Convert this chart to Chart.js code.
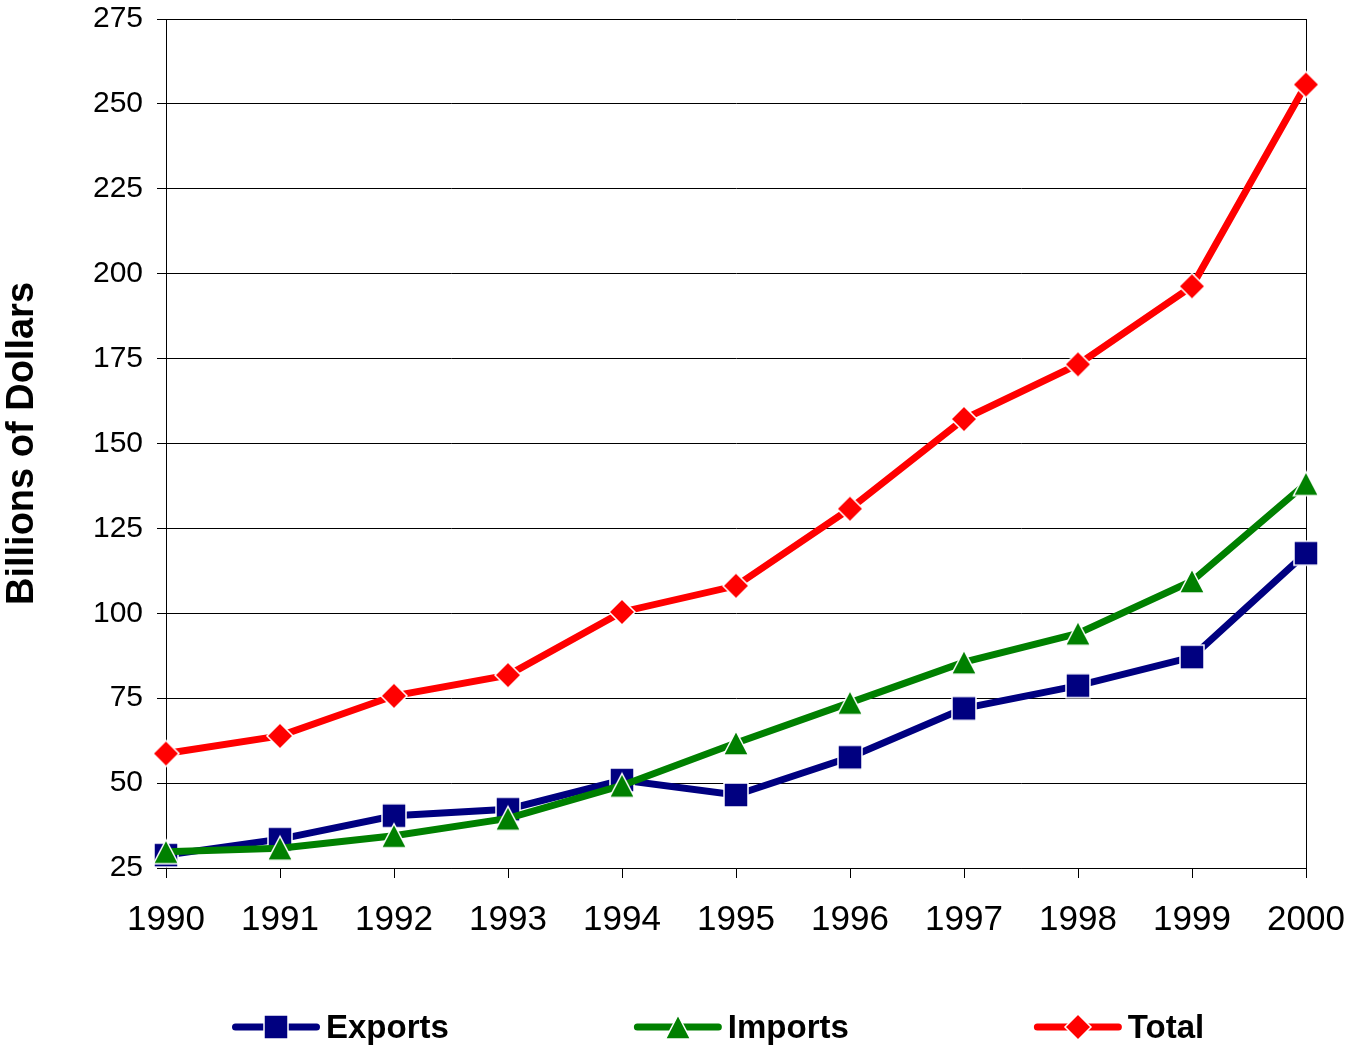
<!DOCTYPE html>
<html>
<head>
<meta charset="utf-8">
<title>Trade, 1990-2000</title>
<script src="https://cdn.jsdelivr.net/npm/chart.js@4.4.1/dist/chart.umd.min.js"></script>
<style>
  html, body { margin: 0; padding: 0; background: #ffffff; }
  #wrap { width: 1346px; height: 1046px; position: relative; }
</style>
</head>
<body>
<div id="wrap"><canvas id="chart"></canvas></div>
<script>
// ---- data (billions of dollars) ----
const years = ['1990', '1991', '1992', '1993', '1994', '1995', '1996', '1997', '1998', '1999', '2000'];
const exportsValues = [28.8, 33.5, 40.4, 42.3, 50.9, 46.5, 57.6, 72.0, 78.7, 87.1, 117.7];
const importsValues = [29.8, 30.8, 34.5, 39.6, 49.3, 61.8, 73.7, 85.6, 94.1, 109.5, 138.2];
const totalValues   = [58.7, 63.9, 75.7, 81.8, 100.4, 108.1, 130.8, 157.2, 173.3, 196.3, 255.7];
const seriesNames = ['Exports', 'Imports', 'Total'];
const yMin = 25;
const yMax = 275;
const yStep = 25;

// ---- styles ----
const FONT = '"Liberation Sans", Arial, Helvetica, sans-serif';
const NAVY = '#000080';
const GREEN = '#008000';
const RED = '#ff0000';

// Marker bitmaps, centred on their bounding box, with a thin white outline
function makeMarker(shape, color) {
  const s = 30;
  const c = document.createElement('canvas');
  c.width = s; c.height = s;
  const g = c.getContext('2d');
  const m = s / 2;
  g.beginPath();
  if (shape === 'square') {
    g.rect(m - 12, m - 12, 24, 24);
  } else if (shape === 'triangle') {
    g.moveTo(m, m - 12);
    g.lineTo(m + 12.5, m + 12);
    g.lineTo(m - 12.5, m + 12);
    g.closePath();
  } else {
    g.moveTo(m, m - 13);
    g.lineTo(m + 13, m);
    g.lineTo(m, m + 13);
    g.lineTo(m - 13, m);
    g.closePath();
  }
  g.fillStyle = color;
  g.fill();
  g.lineWidth = 1.5;
  g.strokeStyle = '#ffffff';
  g.stroke();
  return c;
}

const markers = [
  makeMarker('square', NAVY),
  makeMarker('triangle', GREEN),
  makeMarker('diamond', RED)
];
const colors = [NAVY, GREEN, RED];
const seriesValues = [exportsValues, importsValues, totalValues];

// Legend drawn below the axis: line + marker swatch followed by a bold label
const seriesLegend = {
  id: 'seriesLegend',
  afterDraw(chart) {
    const ctx = chart.ctx;
    const lineLen = 88, textGap = 6, itemGap = 185;
    const midY = chart.height - 19;
    const baseY = chart.height - 8;
    ctx.save();
    ctx.font = 'bold 33px ' + FONT;
    let x = chart.chartArea.left + 66;
    seriesNames.forEach((name, i) => {
      ctx.strokeStyle = colors[i];
      ctx.lineWidth = 7;
      ctx.lineCap = 'round';
      ctx.beginPath();
      ctx.moveTo(x + 3.5, midY);
      ctx.lineTo(x + lineLen - 3.5, midY);
      ctx.stroke();
      const mk = markers[i];
      ctx.drawImage(mk, Math.round(x + lineLen / 2 - mk.width / 2), Math.round(midY - mk.height / 2));
      ctx.fillStyle = '#000000';
      ctx.textAlign = 'left';
      ctx.textBaseline = 'alphabetic';
      const tx = x + lineLen + textGap;
      ctx.fillText(name, tx, baseY);
      x = tx + ctx.measureText(name).width + itemGap;
    });
    ctx.restore();
  }
};

const datasets = seriesNames.map((name, i) => ({
  label: name,
  data: seriesValues[i],
  borderColor: colors[i],
  backgroundColor: colors[i],
  borderWidth: 7,
  tension: 0,
  fill: false,
  pointStyle: markers[i],
  pointRadius: 12,
  pointHoverRadius: 12,
  order: seriesNames.length - i
}));

new Chart(document.getElementById('chart'), {
  type: 'line',
  data: { labels: years, datasets },
  options: {
    responsive: true,
    maintainAspectRatio: false,
    animation: false,
    events: [],
    layout: { padding: { top: 18, right: 40, bottom: 0, left: 0 } },
    plugins: {
      legend: { display: false },
      tooltip: { enabled: false }
    },
    scales: {
      x: {
        offset: false,
        grid: {
          color: (c) => (c.index === years.length - 1 ? '#000000' : 'rgba(0,0,0,0)'),
          tickColor: '#000000',
          tickLength: 10,
          lineWidth: 1
        },
        border: { color: '#000000', width: 1 },
        ticks: {
          color: '#000000',
          font: { family: FONT, size: 35 },
          padding: 21,
          maxRotation: 0,
          autoSkip: false
        },
        afterFit: (s) => {
          s.height = 178;
          s.paddingLeft = 0;
          s.paddingRight = 0;
        }
      },
      y: {
        min: yMin,
        max: yMax,
        grid: {
          color: '#000000',
          tickColor: '#000000',
          tickLength: 9,
          lineWidth: 1
        },
        border: { color: '#000000', width: 1 },
        ticks: {
          stepSize: yStep,
          color: '#000000',
          font: { family: FONT, size: 30 },
          padding: 14
        },
        title: {
          display: true,
          text: 'Billions of Dollars',
          color: '#000000',
          font: { family: FONT, size: 38, weight: 'bold' },
          padding: 0
        },
        afterFit: (s) => {
          s.width = 166;
          s.paddingTop = 0;
          s.paddingBottom = 0;
        }
      }
    }
  },
  plugins: [seriesLegend]
});
</script>
</body>
</html>
